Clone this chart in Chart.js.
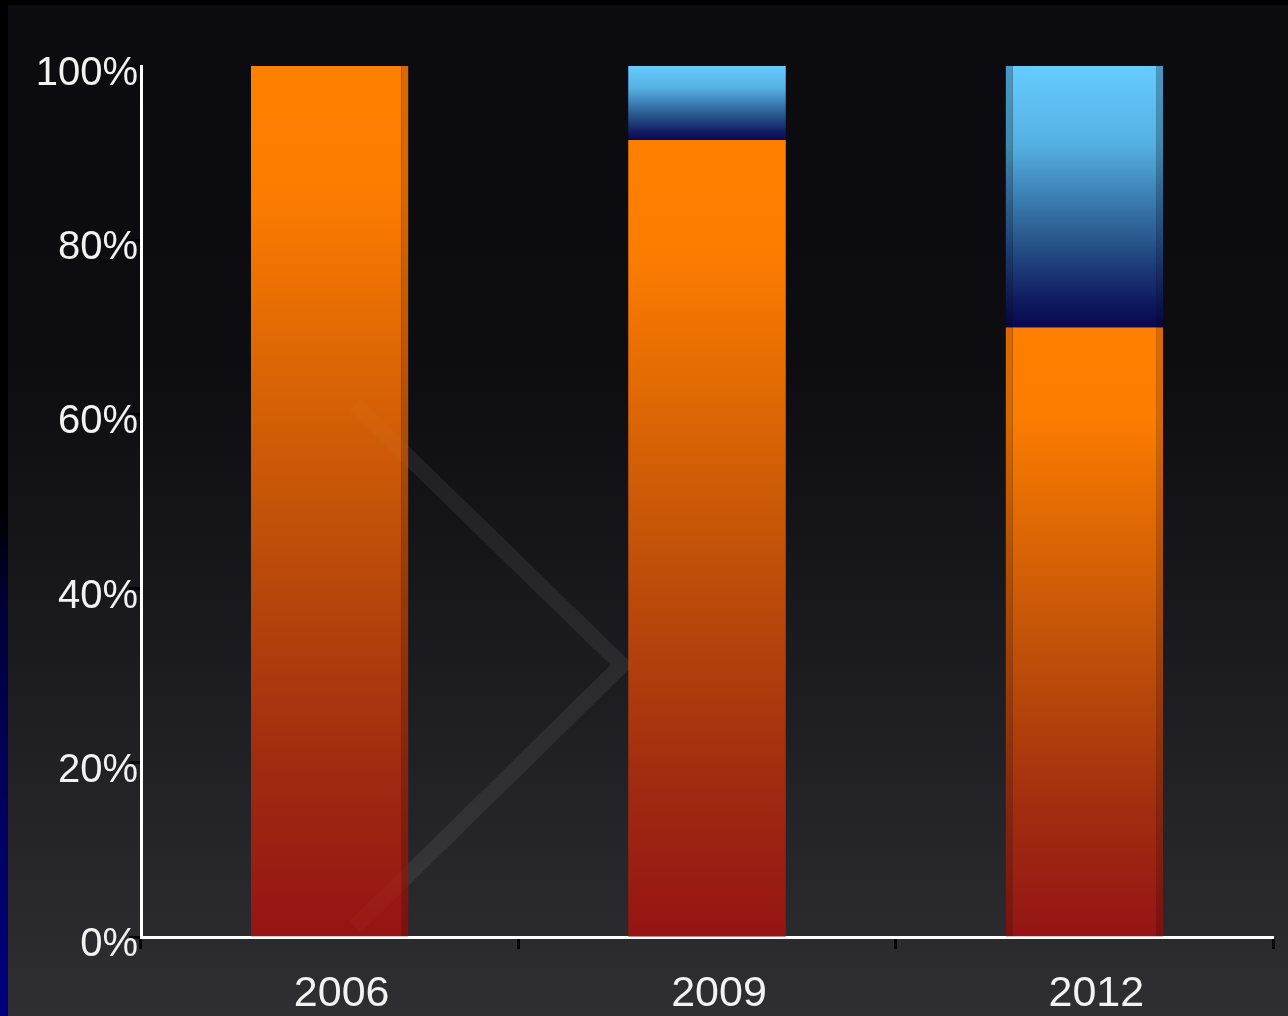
<!DOCTYPE html>
<html>
<head>
<meta charset="utf-8">
<script src="https://cdn.jsdelivr.net/npm/chart.js@4/dist/chart.umd.min.js"></script>
<style>
  html, body { margin: 0; padding: 0; background: #000; }
  body { width: 1288px; height: 1016px; position: relative; overflow: hidden; }
  #strip { position: absolute; left: 0; top: 0; width: 8px; height: 1016px;
    background: linear-gradient(to bottom, #000 0%, #000 50%, #00003a 60%, #000060 80%, #000080 100%); }
  #panel { position: absolute; left: 8px; top: 5px; width: 1280px; height: 1011px;
    background: linear-gradient(to bottom, #0c0c10 0%, #0d0d11 35%, #1a1a1e 62%, #2f2f33 100%); }
  #c { position: absolute; left: 8px; top: 5px; }
</style>
</head>
<body>
<div id="strip"></div>
<div id="panel"></div>
<canvas id="c" width="1280" height="1011"></canvas>
<script>
// ---- data ----
const categories = ['2006', '2009', '2012'];
const orangeShare = [100, 91.5, 70];
const blueShare = [0, 8.5, 30];
const yTickValues = [0, 20, 40, 60, 80, 100];

// ---- styles ----
const orangeStops = [[0, '#ff8000'], [0.15, '#fb7c00'], [0.5, '#c45408'], [0.8, '#a02c10'], [1, '#961414']];
const orangeEdge = [[0, '#d86a00'], [0.15, '#d46800'], [0.5, '#a44406'], [0.8, '#84240e'], [1, '#7c1010']];
const blueStops = [[0, '#66ccff'], [0.3, '#55b0e2'], [0.65, '#2a5a90'], [0.9, '#101a60'], [1, '#080850']];
const blueEdge = [[0, '#4a98c4'], [0.3, '#4088b0'], [0.65, '#224878'], [0.9, '#0e1650'], [1, '#060640']];
const sideEdges = [{left: 0, right: 7, top: 0, bottom: 0}, 0, {left: 7, right: 7, top: 0, bottom: 0}];
const fontFamily = "'Liberation Sans', Arial, sans-serif";

function segBounds(dsIndex, i) {
  const lo = dsIndex === 0 ? 0 : orangeShare[i];
  const hi = dsIndex === 0 ? orangeShare[i] : orangeShare[i] + blueShare[i];
  return [lo, hi];
}
function makeGrad(c, stops) {
  const chart = c.chart;
  const y = chart.scales.y;
  if (!y || c.dataIndex === undefined) return stops[0][1];
  const [lo, hi] = segBounds(c.datasetIndex, c.dataIndex);
  const top = y.getPixelForValue(hi);
  let bottom = y.getPixelForValue(lo);
  if (!isFinite(top) || !isFinite(bottom)) return stops[0][1];
  if (bottom - top < 1) bottom = top + 1;
  const g = chart.ctx.createLinearGradient(0, top, 0, bottom);
  stops.forEach(s => g.addColorStop(s[0], s[1]));
  return g;
}

function strokeChevron(ctx, alpha) {
  ctx.save();
  ctx.strokeStyle = 'rgba(255,255,255,' + alpha + ')';
  ctx.lineWidth = 16;
  ctx.lineJoin = 'miter';
  ctx.beginPath();
  ctx.moveTo(347, 400);
  ctx.lineTo(614, 660);
  ctx.lineTo(347, 922);
  ctx.stroke();
  ctx.restore();
}
const chevron = {
  id: 'chevron',
  beforeDatasetsDraw(chart) { strokeChevron(chart.ctx, 0.05); },
  afterDatasetsDraw(chart) { strokeChevron(chart.ctx, 0.018); }
};

new Chart(document.getElementById('c'), {
  type: 'bar',
  data: {
    labels: categories,
    datasets: [
      {
        label: 'Series 1',
        data: orangeShare,
        backgroundColor: c => makeGrad(c, orangeStops),
        borderColor: c => makeGrad(c, orangeEdge),
        borderWidth: c => sideEdges[c.dataIndex] || 0,
        borderSkipped: false,
        barPercentage: 0.835,
        categoryPercentage: 0.5
      },
      {
        label: 'Series 2',
        data: blueShare,
        backgroundColor: c => makeGrad(c, blueStops),
        borderColor: c => makeGrad(c, blueEdge),
        borderWidth: c => sideEdges[c.dataIndex] || 0,
        borderSkipped: false,
        barPercentage: 0.835,
        categoryPercentage: 0.5
      }
    ]
  },
  plugins: [chevron],
  options: {
    responsive: false,
    animation: false,
    devicePixelRatio: 1,
    layout: { padding: { left: 0, right: 15, top: 61, bottom: 0 } },
    plugins: { legend: { display: false }, tooltip: { enabled: false } },
    scales: {
      x: {
        stacked: true,
        afterFit: s => { s.height = 79; },
        grid: { display: true, drawOnChartArea: false, drawTicks: true, tickLength: 12, tickWidth: 3, tickColor: '#000', color: '#000', offset: true },
        border: { display: true, color: '#ffffff', width: 3 },
        ticks: { color: '#f2f2f2', font: { family: fontFamily, size: 43 }, padding: 19, labelOffset: 12, maxRotation: 0 }
      },
      y: {
        stacked: true,
        min: 0,
        max: 100,
        afterFit: s => { s.width = 133; },
        afterBuildTicks: s => { s.ticks = yTickValues.map(v => ({ value: v })); },
        grid: { display: true, drawOnChartArea: false, drawTicks: true, tickLength: 12, tickWidth: 3, tickColor: '#000', color: '#000' },
        border: { display: true, color: '#ffffff', width: 3 },
        ticks: { color: '#f2f2f2', font: { family: fontFamily, size: 40 }, padding: -9, labelOffset: 8, callback: v => v + '%' }
      }
    }
  }
});
</script>
</body>
</html>
